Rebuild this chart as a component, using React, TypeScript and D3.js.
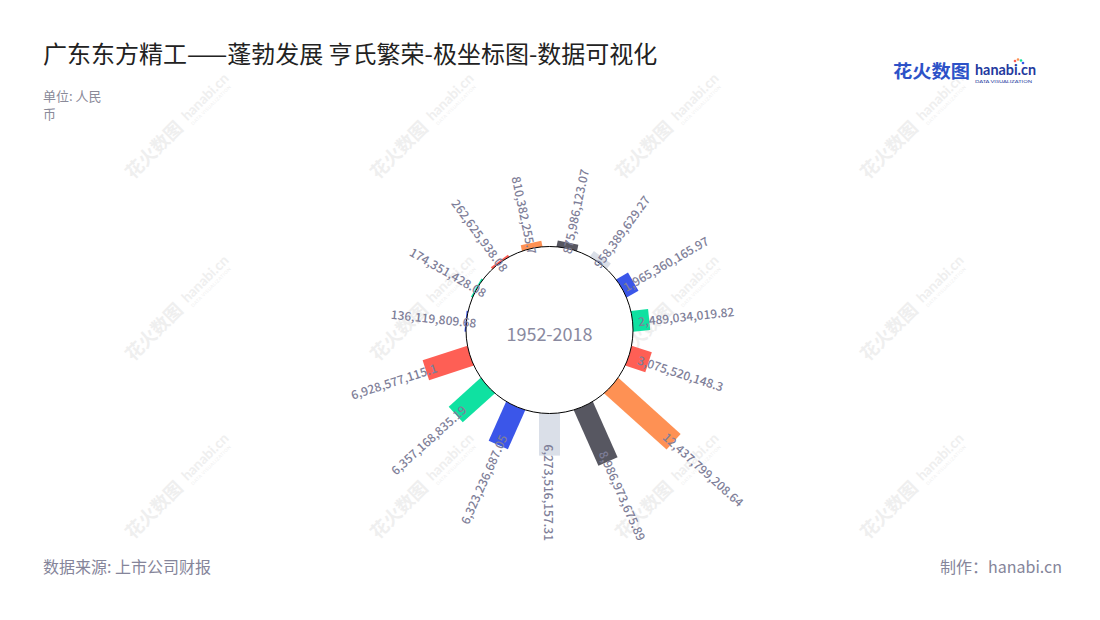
import React from "react";
import * as d3 from "d3";

const categories = ["2004", "2005", "2006", "2007", "2008", "2009", "2010", "2011", "2012", "2013", "2014", "2015", "2016", "2017", "2018"];
const values = [
  136119809.68, 174351428.08, 262625938.08, 810382255.7, 875986123.07,
  958389629.27, 1965360165.97, 2489034019.82, 3075520148.3, 12437799208.64,
  8986973675.89, 6273516157.31, 6323236687.05, 6357168835.19, 6928577115.1,
];
const labels = [
  "136,119,809.68", "174,351,428.08", "262,625,938.08", "810,382,255.7", "875,986,123.07",
  "958,389,629.27", "1,965,360,165.97", "2,489,034,019.82", "3,075,520,148.3", "12,437,799,208.64",
  "8,986,973,675.89", "6,273,516,157.31", "6,323,236,687.05", "6,357,168,835.19", "6,928,577,115.1",
];
const palette = ["#3b56e9", "#0fe1a1", "#fe5f55", "#fe9154", "#575761", "#dadfe8"];

const W = 1100, H = 620;
const cx = 549.5, cy = 330;
const innerR = 83.5, outerR = 167;
const FONT = "'Noto Sans CJK SC', 'Noto Sans', sans-serif";

export default function App() {
  const angle = d3.scaleBand<string>().domain(categories).range([264, 624]).padding(0);
  const radius = d3.scaleLinear().domain([0, d3.max(values) as number]).range([innerR, outerR]);
  const barW = 21;

  const wmX = [133, 378, 623, 868];
  const wmY = [180, 362, 540];

  return (
    <svg width={W} height={H} style={{ position: "absolute", left: 0, top: 0, fontFamily: FONT }}>
      <rect width={W} height={H} fill="#ffffff" />
      {/* watermarks */}
      {wmY.map((y) =>
        wmX.map((x) => (
          <g key={`${x}-${y}`} transform={`translate(${x},${y}) rotate(-45)`} fill="#efefef">
            <text x={0} y={0} fontSize={18} fontWeight={700}>花火数图</text>
            <text x={80} y={-3} fontSize={14} fontWeight={700} fontFamily="Lato, sans-serif">hanabi.cn</text>
            <text x={81} y={4} fontSize={4.5} fontFamily="Lato, sans-serif" letterSpacing={0.5}>DATA VISUALIZATION</text>
          </g>
        ))
      )}

      {/* title */}
      <text x={43} y={63} fontSize={24} fill="#222222">广东东方精工——蓬勃发展 亨氏繁荣-极坐标图-数据可视化</text>
      <text x={43} y={101} fontSize={13} fill="#8a8a99">单位: 人民</text>
      <text x={43} y={119} fontSize={13} fill="#8a8a99">币</text>

      {/* logo */}
      <g>
        <text x={893} y={78} fontSize={18} fontWeight={700} fill="#2d52c8" textLength={77} lengthAdjust="spacingAndGlyphs">花火数图</text>
        <text x={975} y={75} fontSize={16} fontWeight={700} fill="#23399e" fontFamily="Lato, sans-serif" textLength={61} lengthAdjust="spacingAndGlyphs">hanabi.cn</text>
        <text x={975} y={82.5} fontSize={4.6} fill="#23399e" fontFamily="Lato, sans-serif" textLength={57} lengthAdjust="spacingAndGlyphs">DATA VISUALIZATION</text>
        <circle cx={1015} cy={61} r={1.3} fill="#fe5f55" />
        <circle cx={1018} cy={59.5} r={1.3} fill="#fe9154" />
        <circle cx={1021} cy={60.5} r={1.3} fill="#0fe1a1" />
        <circle cx={1023} cy={63} r={1.3} fill="#3b56e9" />
      </g>

      {/* bars */}
      {categories.map((c, i) => {
        const theta = (angle(c) as number) + angle.bandwidth() / 2;
        const rEnd = radius(values[i]);
        return (
          <g key={c} transform={`translate(${cx},${cy}) rotate(${theta})`}>
            <rect x={-barW / 2} y={-rEnd} width={barW} height={rEnd - innerR + 3} fill={palette[i % palette.length]} />
          </g>
        );
      })}

      <circle cx={cx} cy={cy} r={innerR} fill="#ffffff" stroke="#000000" strokeWidth={1} />
      <text x={cx} y={cy + 3} fontSize={18} fill="#8a8aa0" textAnchor="middle" dominantBaseline="central">1952-2018</text>

      {/* labels */}
      {categories.map((c, i) => {
        const theta = (angle(c) as number) + angle.bandwidth() / 2;
        const t = ((theta % 360) + 360) % 360;
        const r = radius(values[i]) - 11;
        const rad = (t * Math.PI) / 180;
        const x = cx + r * Math.sin(rad);
        const y = cy - r * Math.cos(rad);
        const right = t <= 180;
        const rot = right ? t - 90 : t - 270;
        return (
          <text
            key={c}
            transform={`translate(${x},${y}) rotate(${rot})`}
            fontSize={12}
            fontWeight={500}
            fill="#7e7e98"
            textAnchor={right ? "start" : "end"}
            dominantBaseline="central"
          >
            {labels[i]}
          </text>
        );
      })}

      {/* footer */}
      <text x={43} y={573} fontSize={16} fill="#85859a">数据来源: 上市公司财报</text>
      <text x={1062} y={573} fontSize={16} fill="#85859a" textAnchor="end">制作：hanabi.cn</text>
    </svg>
  );
}
